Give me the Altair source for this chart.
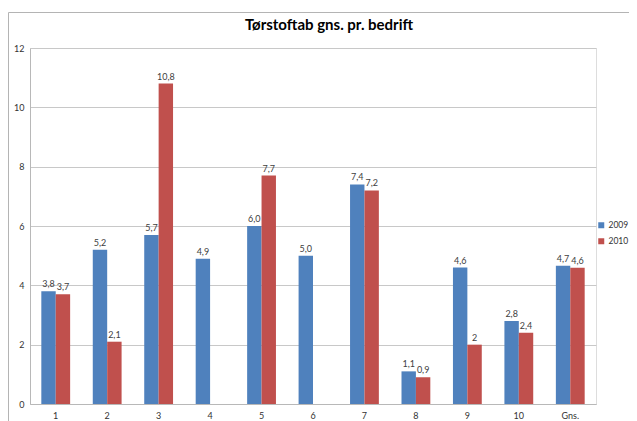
import altair as alt
import pandas as pd

categories = ["1", "2", "3", "4", "5", "6", "7", "8", "9", "10", "Gns."]
v2009 = [3.8, 5.2, 5.7, 4.9, 6.0, 5.0, 7.4, 1.1, 4.6, 2.8, 4.66]
v2010 = [3.7, 2.1, 10.8, None, 7.7, None, 7.2, 0.9, 2.0, 2.4, 4.59]
lab2009 = ["3,8", "5,2", "5,7", "4,9", "6,0", "5,0", "7,4", "1,1", "4,6", "2,8", "4,7"]
lab2010 = ["3,7", "2,1", "10,8", None, "7,7", None, "7,2", "0,9", "2", "2,4", "4,6"]
years = ["2009", "2010"]
colors = ["#4F81BD", "#C0504D"]

rows = []
for i, c in enumerate(categories):
    rows.append({"cat": c, "year": years[0], "value": v2009[i], "label": lab2009[i]})
    rows.append({"cat": c, "year": years[1], "value": v2010[i], "label": lab2010[i]})
df = pd.DataFrame(rows).dropna()

FONT = "Lato"

x = alt.X("cat:N", sort=categories, title=None,
          scale=alt.Scale(paddingInner=0.44, paddingOuter=0.22),
          axis=alt.Axis(labelAngle=0, labelFontSize=9, labelColor="#333333",
                        labelFont=FONT, ticks=False, domainColor="#b8b8b8",
                        labelPadding=7, grid=False))
xoff = alt.XOffset("year:N", sort=years, scale=alt.Scale(paddingInner=0, paddingOuter=0))
y = alt.Y("value:Q", title=None,
          scale=alt.Scale(domain=[0, 12], nice=False),
          axis=alt.Axis(values=[0, 2, 4, 6, 8, 10, 12], labelFontSize=9, labelColor="#333333",
                        labelFont=FONT, ticks=False, domainColor="#b8b8b8",
                        gridColor="#c8c8c8", labelPadding=6))

base = alt.Chart(df)
bars = base.mark_bar().encode(
    x=x, xOffset=xoff, y=y,
    color=alt.Color("year:N", sort=years,
                    scale=alt.Scale(domain=years, range=colors),
                    legend=alt.Legend(title=None, orient="none", legendX=567, legendY=173,
                                      symbolType="square", symbolSize=36,
                                      symbolStrokeWidth=0, labelFontSize=8.5,
                                      labelFont=FONT, labelColor="#333333",
                                      rowPadding=7, labelOffset=3)),
)
texts = base.mark_text(dy=-7, fontSize=9, font=FONT, color="#404040").encode(
    x=x, xOffset=xoff, y=y, text="label:N"
)

frame_df = pd.DataFrame({"k": [0]})
frame_left = alt.Chart(frame_df).mark_rule(color="#b4b4b4", strokeWidth=1).encode(
    x=alt.value(-21.5), y=alt.value(-35.5), y2=alt.value(430)
)
frame_top = alt.Chart(frame_df).mark_rule(color="#b4b4b4", strokeWidth=1).encode(
    x=alt.value(-21.5), x2=alt.value(700), y=alt.value(-35.5)
)

chart = alt.layer(frame_left, frame_top, bars, texts).properties(
    width=566, height=356,
    title=alt.TitleParams("Tørstoftab gns. pr. bedrift", font=FONT, fontSize=15,
                          fontWeight="bold", color="#000000", anchor="middle",
                          dx=16, offset=-21),
    autosize=alt.AutoSizeParams(type="none"),
    padding={"left": 22, "top": 40, "right": 33, "bottom": 17},
).configure_view(stroke=None).configure(background="white")

chart.save("out.html", embed_options={"renderer": "svg", "actions": False})
